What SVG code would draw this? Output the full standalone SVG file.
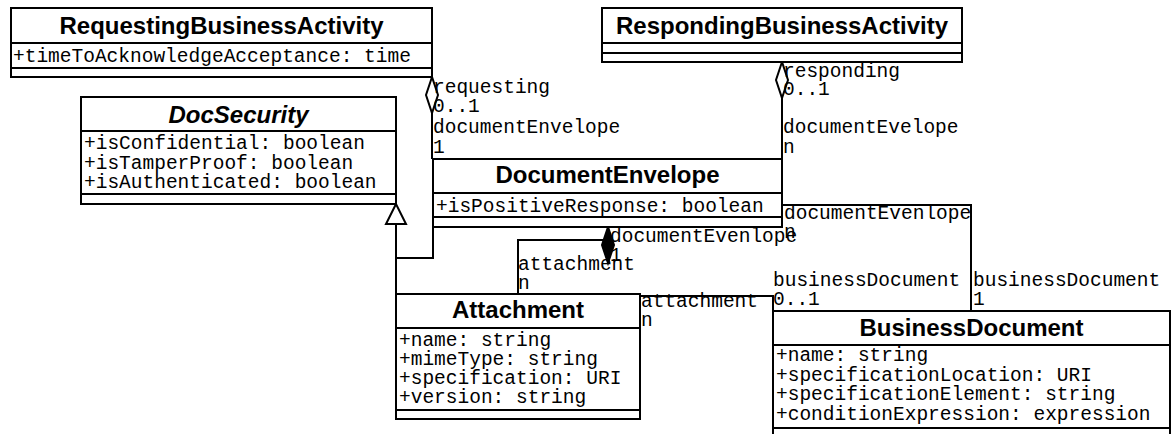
<svg xmlns="http://www.w3.org/2000/svg" width="1176" height="434" viewBox="0 0 1176 434">
<style>
.box{fill:#fff;stroke:#000;stroke-width:2}
.ln{fill:none;stroke:#000;stroke-width:2}
.h{font-family:"Liberation Sans",Arial,sans-serif;font-weight:bold;font-size:24px;text-anchor:middle;fill:#000}
.hi{font-style:italic}
.m{font-family:"Liberation Mono","Courier New",monospace;font-size:19.5px;fill:#000}
</style>
<rect width="1176" height="434" fill="#fff"/>
<g id="connectors">
<polyline class="ln" points="432,113 432,159"/>
<polygon class="box" points="432,77 426,95 432,113 438,95"/>
<polyline class="ln" points="782,98 782,159"/>
<polygon class="box" points="782,62 776,80 782,98 788,80"/>
<polyline class="ln" points="433,227 433,258 396,258 396,224"/>
<polyline class="ln" points="396,294 396,224"/>
<polygon class="box" points="396,204 386,224 406,224"/>
<polyline class="ln" points="606,240 518,240 518,294"/>
<polygon points="608,227 602,245 608,263 614,245" fill="#000" stroke="#000" stroke-width="2"/>
<polyline class="ln" points="782,205 971,205 971,311"/>
<polyline class="ln" points="640,296 773,296 773,311"/>
<text class="m" x="433" y="93">requesting</text>
<text class="m" x="433" y="112">0..1</text>
<text class="m" x="433" y="133">documentEnvelope</text>
<text class="m" x="433" y="153">1</text>
<text class="m" x="783" y="77">responding</text>
<text class="m" x="783" y="95">0..1</text>
<text class="m" x="783" y="133">documentEvelope</text>
<text class="m" x="783" y="153">n</text>
<text class="m" x="784" y="219">documentEvenlope</text>
<text class="m" x="784" y="238">n</text>
<text class="m" x="610" y="242">documentEvenlope</text>
<text class="m" x="610" y="261">1</text>
<text class="m" x="518" y="270">attachment</text>
<text class="m" x="518" y="289">n</text>
<text class="m" x="641" y="307">attachment</text>
<text class="m" x="641" y="326">n</text>
<text class="m" x="773" y="286">businessDocument</text>
<text class="m" x="773" y="305">0..1</text>
<text class="m" x="973" y="286">businessDocument</text>
<text class="m" x="973" y="305">1</text>
</g>
<g id="RequestingBusinessActivity">
<rect class="box" x="11" y="8" width="421" height="69"/>
<line class="ln" x1="11" y1="43" x2="432" y2="43"/>
<line class="ln" x1="11" y1="68" x2="432" y2="68"/>
<text class="h" x="221.5" y="34">RequestingBusinessActivity</text>
<text class="m" x="13" y="62">+timeToAcknowledgeAcceptance: time</text>
</g>
<g id="RespondingBusinessActivity">
<rect class="box" x="602" y="8" width="360" height="54"/>
<line class="ln" x1="602" y1="43" x2="962" y2="43"/>
<line class="ln" x1="602" y1="53" x2="962" y2="53"/>
<text class="h" x="782" y="34">RespondingBusinessActivity</text>
</g>
<g id="DocSecurity">
<rect class="box" x="81" y="97" width="315" height="107"/>
<line class="ln" x1="81" y1="131" x2="396" y2="131"/>
<line class="ln" x1="81" y1="194" x2="396" y2="194"/>
<text class="h hi" x="238.5" y="123">DocSecurity</text>
<text class="m" x="84" y="149">+isConfidential: boolean</text>
<text class="m" x="84" y="169">+isTamperProof: boolean</text>
<text class="m" x="84" y="188">+isAuthenticated: boolean</text>
</g>
<g id="DocumentEnvelope">
<rect class="box" x="433" y="159" width="349" height="68"/>
<line class="ln" x1="433" y1="193" x2="782" y2="193"/>
<line class="ln" x1="433" y1="217" x2="782" y2="217"/>
<text class="h" x="607.5" y="183">DocumentEnvelope</text>
<text class="m" x="436" y="212">+isPositiveResponse: boolean</text>
</g>
<g id="Attachment">
<rect class="box" x="396" y="294" width="244" height="125"/>
<line class="ln" x1="396" y1="328" x2="640" y2="328"/>
<line class="ln" x1="396" y1="410" x2="640" y2="410"/>
<text class="h" x="518" y="318">Attachment</text>
<text class="m" x="399" y="346">+name: string</text>
<text class="m" x="399" y="365">+mimeType: string</text>
<text class="m" x="399" y="384">+specification: URI</text>
<text class="m" x="399" y="403">+version: string</text>
</g>
<g id="BusinessDocument">
<rect class="box" x="773" y="311" width="397" height="130"/>
<line class="ln" x1="773" y1="345" x2="1170" y2="345"/>
<line class="ln" x1="773" y1="428" x2="1170" y2="428"/>
<text class="h" x="971.5" y="336">BusinessDocument</text>
<text class="m" x="776" y="361">+name: string</text>
<text class="m" x="776" y="381">+specificationLocation: URI</text>
<text class="m" x="776" y="400">+specificationElement: string</text>
<text class="m" x="776" y="420">+conditionExpression: expression</text>
</g>
</svg>
